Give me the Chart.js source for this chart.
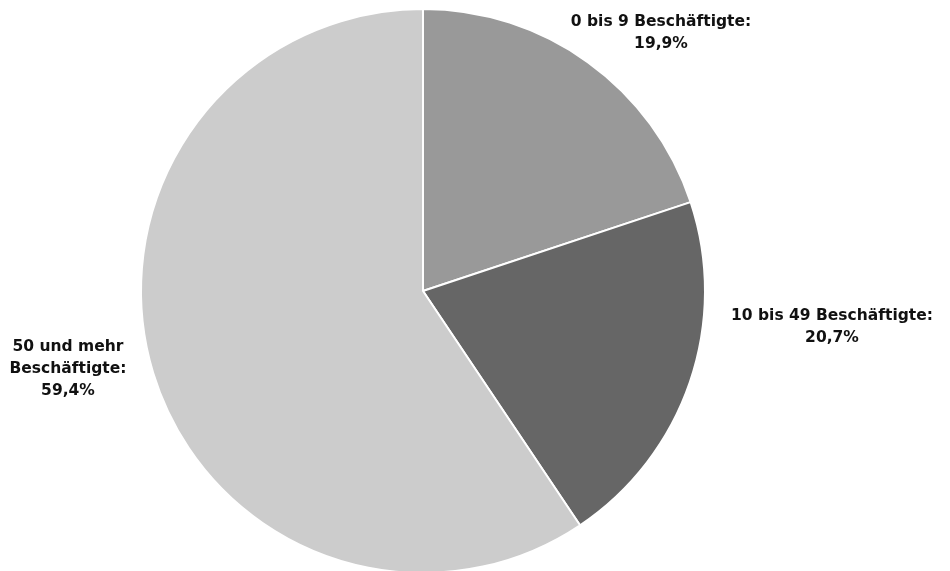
<!DOCTYPE html>
<html>
<head>
<meta charset="utf-8">
<script src="https://cdn.jsdelivr.net/npm/chart.js@4/dist/chart.umd.min.js"></script>
<style>
html,body{margin:0;padding:0;background:#fff;overflow:hidden;}
#wrap{width:950px;height:580px;position:relative;}
</style>
</head>
<body>
<div id="wrap"><canvas id="pie"></canvas></div>
<script>
// Anteil nach Betriebsgröße
const kategorien=[['0 bis 9 Beschäftigte:'],['10 bis 49 Beschäftigte:'],['50 und mehr','Beschäftigte:']];
const anteile=[19.9,20.7,59.4];
const farben=['#999999','#666666','#cccccc'];

// feste Lage der Beschriftungen (Mitte der ersten Zeile)
const labelPos=[[661,22],[832,316],[68,347]];

const labelPlugin={
 id:'pieLabels',
 afterDatasetsDraw(chart){
  const ctx=chart.ctx;
  ctx.save();
  ctx.font='bold 15.5px "DejaVu Sans", sans-serif';
  ctx.fillStyle='#111111';
  ctx.textAlign='center';
  ctx.textBaseline='middle';
  chart.data.labels.forEach((lab,i)=>{
   let lines=lab.concat([anteile[i].toFixed(1).replace('.',',')+'%']);
   let p=labelPos[i];
   lines.forEach((t,j)=>ctx.fillText(t,p[0],p[1]+j*22));
  });
  ctx.restore();
 }
};

new Chart(document.getElementById('pie'),{
 type:'pie',
 data:{labels:kategorien,datasets:[{data:anteile,backgroundColor:farben,borderColor:'#ffffff',borderWidth:2}]},
 options:{
  responsive:true,maintainAspectRatio:false,animation:false,
  layout:{padding:{left:140,right:244,top:8,bottom:6}},
  plugins:{legend:{display:false},tooltip:{enabled:false}}
 },
 plugins:[labelPlugin]
});
</script>
</body>
</html>
